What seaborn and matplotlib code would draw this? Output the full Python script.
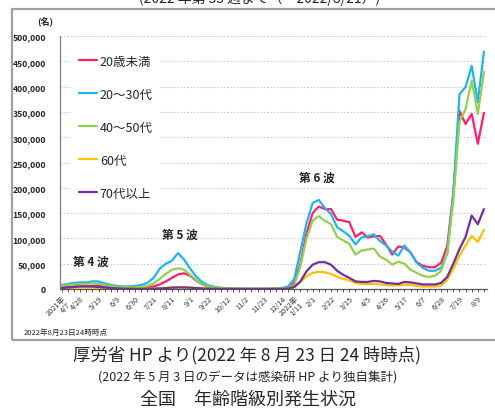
import numpy as np
import pandas as pd
import matplotlib
matplotlib.use("Agg")
import matplotlib.pyplot as plt
from matplotlib.patches import Rectangle
from matplotlib.ticker import StrMethodFormatter
import seaborn as sns

# 週ごとの新規陽性者数（2021/4/7 ～ 2022/8/16 の週）
under20 = [3000, 4000, 5000, 5000, 5000, 6000, 6000, 5000, 4000, 3000, 2500, 2000, 2000,
           2000, 3000, 5000, 9000, 15000, 22000, 29000, 31000, 26000, 16000, 9000, 4000, 2000,
           1200, 800, 500, 400, 300, 300, 300, 300, 400, 500, 1000, 3000,
           12000, 50000, 110000, 150000, 163000, 158000, 158000, 137000, 135000, 132000, 103000,
           112000, 102000, 104000, 105000, 88000, 68000, 84000, 82000, 72000, 53000, 46000,
           43000, 43000, 52000, 85000, 190000, 352000, 326000, 346000, 287000, 348000]
age20_30 = [8000, 10000, 12000, 13000, 13000, 15000, 15000, 11000, 8000, 6000, 5000, 5000, 6000,
            8000, 12000, 22000, 40000, 50000, 56000, 71000, 58000, 40000, 24000, 13000, 7000, 4000,
            2500, 1500, 1000, 700, 500, 500, 500, 500, 600, 800, 2000, 5000,
            20000, 75000, 130000, 170000, 176000, 160000, 148000, 122000, 114000, 105000, 88000,
            102000, 104000, 108000, 95000, 86000, 74000, 66000, 86000, 72000, 52000, 42000,
            36000, 36000, 42000, 70000, 190000, 385000, 399000, 441000, 369000, 469000]
age40_50 = [6000, 8000, 9000, 10000, 10000, 11000, 10000, 8000, 6000, 4000, 3500, 3000, 3500,
            4000, 6000, 11000, 20000, 30000, 38000, 41000, 38000, 28000, 17000, 9000, 5000, 2500,
            1500, 1000, 600, 500, 400, 400, 400, 400, 500, 600, 1000, 2000,
            8000, 45000, 100000, 135000, 144000, 135000, 128000, 103000, 96000, 89000, 68000,
            76000, 78000, 80000, 64000, 58000, 48000, 54000, 50000, 38000, 32000, 26000,
            24000, 26000, 36000, 70000, 175000, 330000, 356000, 412000, 346000, 429000]
age60 = [1500, 2000, 2500, 3000, 3000, 3000, 2500, 2000, 1500, 1000, 800, 600, 500,
         500, 700, 1000, 1500, 2500, 3500, 4000, 4000, 3000, 2000, 1200, 700, 400,
         300, 200, 150, 100, 100, 100, 100, 100, 100, 150, 300, 1000,
         4000, 14000, 25000, 32000, 34000, 33000, 30000, 24000, 20000, 17000, 12000,
         10000, 10000, 10000, 9000, 8000, 7000, 7000, 9000, 8000, 6000, 5000,
         5000, 5000, 7000, 18000, 40000, 66000, 86000, 105000, 93000, 117000]
age70plus = [2000, 3000, 4000, 5000, 5000, 5000, 4000, 3000, 2000, 1200, 800, 600, 500,
             400, 500, 700, 1000, 1500, 2500, 3000, 3000, 2500, 1800, 1000, 600, 400,
             300, 200, 150, 100, 100, 100, 100, 100, 100, 150, 300, 1000,
             4000, 15000, 35000, 48000, 53000, 53000, 48000, 36000, 28000, 22000, 15000,
             14000, 14000, 16000, 15000, 12000, 11000, 10000, 14000, 13000, 11000, 9000,
             9000, 9000, 12000, 24000, 50000, 79000, 103000, 145000, 128000, 158000]

groups = ['20歳未満', '20～30代', '40～50代', '60代', '70代以上']
colors = ['#FF1F6E', '#1EB4F0', '#92D050', '#FFC000', '#7030A0']

tick_pos = [0, 3, 6, 9, 12, 15, 18, 21, 24, 27, 30, 33, 36, 38,
            41, 44, 47, 50, 53, 56, 59, 62, 65, 68]
tick_labels = ['2021年\n4/7', '4/28', '5/19', '6/9', '6/30', '7/21', '8/11', '9/1', '9/22',
               '10/12', '11/2', '11/23', '12/14', '2022年\n1/11', '2/1', '2/22', '3/15',
               '4/5', '4/26', '5/17', '6/7', '6/28', '7/19', '8/9']

n = len(under20)
df = pd.DataFrame({'week': list(range(n)) * 5,
                   'cases': under20 + age20_30 + age40_50 + age60 + age70plus,
                   'group': sum([[g] * n for g in groups], [])})

sns.set_style('white')
plt.rcParams['font.family'] = ['Noto Sans CJK JP', 'DejaVu Sans']

fig = plt.figure(figsize=(4.95, 4.14), dpi=100)
ax = fig.add_axes([60 / 495, 124 / 414, 427 / 495, 253 / 414])

# 外枠
fig.add_artist(Rectangle((12 / 495, 73 / 414), 500 / 495, 331 / 414, transform=fig.transFigure,
                         fill=False, edgecolor='#A0A0A0', linewidth=1.6))

sns.lineplot(data=df, x='week', y='cases', hue='group', palette=colors,
             linewidth=1.6, ax=ax)

ax.set_xlim(-0.3, 69.5)
ax.set_ylim(0, 500000)
ax.set_yticks(range(0, 500001, 50000))
ax.yaxis.set_major_formatter(StrMethodFormatter('{x:,.0f}'))
ax.set_xticks(range(n))
labels = [''] * n
for p, t in zip(tick_pos, tick_labels):
    labels[p] = t
ax.set_xticklabels(labels, rotation=45, ha='right', rotation_mode='anchor', fontsize=5.3,
                   color='#333333', linespacing=0.9)
ax.tick_params(axis='x', length=2.5, width=0.7, color='#555555', pad=1.5, bottom=True)
ax.tick_params(axis='y', length=0, labelsize=6.2, pad=10)
for t in ax.get_yticklabels():
    t.set_fontweight('bold')
ax.set_xlabel('')
ax.set_ylabel('')

ax.grid(axis='y', color='#CFCFCF', linestyle=(0, (1.5, 1.5)), linewidth=0.8)
ax.set_axisbelow(True)
sns.despine(ax=ax, top=True, right=True)
ax.spines['left'].set_color('#808080')
ax.spines['left'].set_linewidth(0.9)
ax.spines['bottom'].set_color('#555555')
ax.spines['bottom'].set_linewidth(0.9)

leg = ax.legend(loc='upper left', bbox_to_anchor=(0.02, 0.965), frameon=True, fontsize=9,
                handlelength=1.5, handletextpad=0.2, labelspacing=1.6, borderpad=0.6,
                borderaxespad=0.2)
leg.get_frame().set_facecolor('white')
leg.get_frame().set_edgecolor('none')
leg.get_frame().set_alpha(1)
for line in leg.get_lines():
    line.set_linewidth(1.6)

ax.text(4.8, 55000, '第 4 波', fontsize=8.5, fontweight='bold', ha='center', va='center')
ax.text(19.3, 109000, '第 5 波', fontsize=8.5, fontweight='bold', ha='center', va='center')
ax.text(41.7, 221000, '第 6 波', fontsize=8.5, fontweight='bold', ha='center', va='center')

fig.text(45 / 495, 1 - 22 / 414, '(名)', fontsize=6.5, fontweight='bold', ha='center', va='center')
fig.text(24 / 495, 1 - 333 / 414, '2022年8月23日24時時点', fontsize=5.5, ha='left', va='center')
fig.text(260 / 495, 1 - 6 / 414, '(2022 年第 33 週まで（～2022/8/21）)', fontsize=10,
         ha='center', va='bottom')

fig.text(247 / 495, 1 - 355 / 414, '厚労省 HP より(2022 年 8 月 23 日 24 時時点)', fontsize=12.5,
         ha='center', va='center')
fig.text(248 / 495, 1 - 378 / 414, '(2022 年 5 月 3 日のデータは感染研 HP より独自集計)',
         fontsize=9, ha='center', va='center')
fig.text(248 / 495, 1 - 400 / 414, '全国　年齢階級別発生状況', fontsize=13,
         ha='center', va='center')

fig.savefig('out.png', dpi=100)
